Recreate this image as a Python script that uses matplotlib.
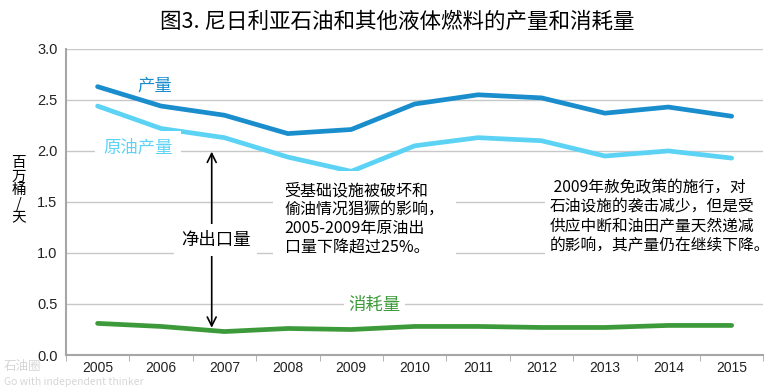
import numpy as np
import matplotlib
matplotlib.use('Agg')
import matplotlib.pyplot as plt

plt.rcParams['font.family'] = ['Noto Sans CJK SC', 'DejaVu Sans']

# ── 数据 ─────────────────────────────────────────
years = ['2005', '2006', '2007', '2008', '2009', '2010',
         '2011', '2012', '2013', '2014', '2015']
total_prod = [2.63, 2.44, 2.35, 2.17, 2.21, 2.46, 2.55, 2.52, 2.37, 2.43, 2.34]
crude_prod = [2.44, 2.22, 2.13, 1.94, 1.80, 2.05, 2.13, 2.10, 1.95, 2.00, 1.93]
consumption = [0.31, 0.28, 0.23, 0.26, 0.25, 0.28, 0.28, 0.27, 0.27, 0.29, 0.29]
y_ticks = [0.0, 0.5, 1.0, 1.5, 2.0, 2.5, 3.0]

C_TOTAL = '#1a8dcd'
C_CRUDE = '#5cd3f5'
C_CONS = '#3d9a3a'
C_AXIS = '#a6a6a6'
TICK_FONT = ['Liberation Sans', 'DejaVu Sans']

fig = plt.figure(figsize=(7.75, 3.88), dpi=100)
ax = fig.add_axes([0.085, 0.085, 0.90, 0.789])
x = np.arange(len(years))

# 网格线
for v in y_ticks[1:]:
  ax.axhline(v, color='#c8c8c8', lw=1, zorder=0)

ax.plot(x, total_prod, color=C_TOTAL, lw=3.4, zorder=3, solid_capstyle='round')
ax.plot(x, crude_prod, color=C_CRUDE, lw=3.4, zorder=3, solid_capstyle='round')
ax.plot(x, consumption, color=C_CONS, lw=3.4, zorder=3, solid_capstyle='round')

ax.set_xlim(-0.5, len(years) - 0.5)
ax.set_ylim(0, 3.0)
ax.set_yticks(y_ticks)
ax.set_yticklabels([f'{v:.1f}' for v in y_ticks], family=TICK_FONT, fontsize=10.5)
ax.set_xticks(x)
ax.set_xticklabels(years, family=TICK_FONT, fontsize=10)
ax.set_xticks(np.arange(-0.5, len(years)), minor=True)
ax.tick_params(axis='x', which='major', length=0, pad=4, colors='#222222')
ax.tick_params(axis='x', which='minor', length=4, color=C_AXIS, direction='out')
ax.tick_params(axis='y', length=0, pad=6, colors='#222222')

for s in ['top', 'right']:
  ax.spines[s].set_visible(False)
for s in ['left', 'bottom']:
  ax.spines[s].set_color(C_AXIS)
  ax.spines[s].set_linewidth(1.5)

white = dict(facecolor='white', edgecolor='none', pad=3)

# 系列标签
ax.text(0.9, 2.64, '产量', color=C_TOTAL, fontsize=12.5, fontweight='medium',
        ha='center', va='center', zorder=4)
ax.text(0.64, 2.03, '原油产量', color=C_CRUDE, fontsize=12.5, fontweight='medium',
        ha='center', va='center', zorder=4, bbox=dict(white, pad=6))
ax.text(4.37, 0.49, '消耗量', color=C_CONS, fontsize=12.5, fontweight='medium',
        ha='center', va='center', zorder=4, bbox=dict(white, pad=3))

# 净出口量箭头
ax.annotate('', xy=(1.8, 2.02), xytext=(1.8, 0.24),
            arrowprops=dict(arrowstyle='<->', color='black', lw=1.2,
                            mutation_scale=16), zorder=4)
ax.text(1.86, 1.13, '净出口量', fontsize=12.5, ha='center', va='center',
        zorder=5, bbox=dict(white, pad=5))

# 注释文字
ax.text(2.95, 1.69,
        '受基础设施被破坏和\n偷油情况猖獗的影响，\n2005-2009年原油出\n口量下降超过25%。',
        fontsize=11.5, ha='left', va='top', linespacing=1.15, zorder=5,
        bbox=dict(white, pad=8))
ax.text(7.13, 1.72,
        ' 2009年赦免政策的施行，对\n石油设施的袭击减少，但是受\n供应中断和油田产量天然递减\n的影响，其产量仍在继续下降。',
        fontsize=11.3, ha='left', va='top', linespacing=1.17, zorder=5,
        bbox=dict(white, pad=3))

# 坐标轴标题（竖排）
fig.text(0.024, 0.51, '百\n万\n桶\n/\n天', fontsize=10.5, ha='center', va='center',
         linespacing=0.95)

# 标题
fig.text(0.513, 0.945, '图3. 尼日利亚石油和其他液体燃料的产量和消耗量',
         fontsize=15.5, ha='center', va='center')

# 水印
fig.text(0.005, 0.055, '石油圈', fontsize=9, color='#cccccc', alpha=0.8,
         ha='left', va='center', zorder=10)
fig.text(0.005, 0.016, 'Go with independent thinker', fontsize=7.5,
         color='#cccccc', alpha=0.8, ha='left', va='center', zorder=10)

fig.savefig('out.png', dpi=100)
